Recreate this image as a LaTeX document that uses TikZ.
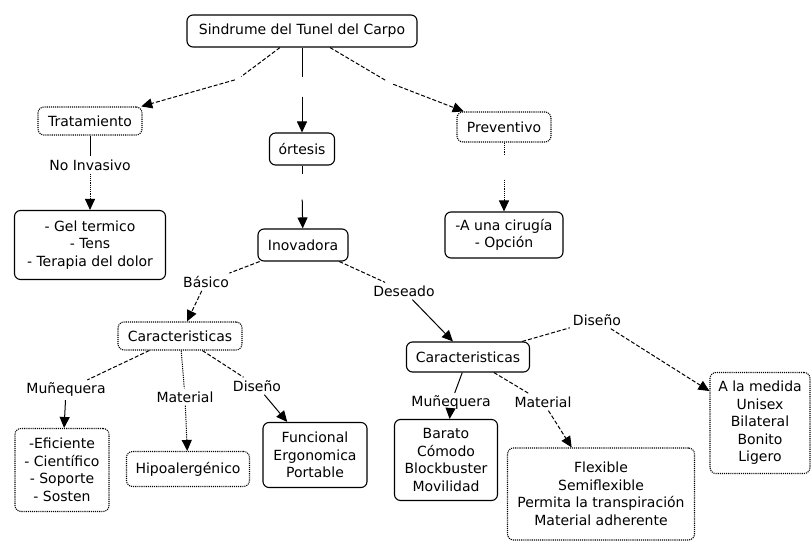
\documentclass[tikz,border=0pt]{standalone}
\usepackage{fontspec}
\setmainfont{DejaVu Sans}
\usetikzlibrary{arrows.meta}
\begin{document}
\begin{tikzpicture}[x=1pt,y=-1pt,
  every node/.style={font=\fontsize{14}{17.5}\selectfont},
  cbox/.style={draw, rounded corners=6pt, align=center, inner xsep=5pt, inner ysep=3pt, line width=1.1pt},
  dbox/.style={cbox, densely dotted},
  lp/.style={inner sep=3pt},
  gapn/.style={inner sep=0pt, minimum width=6pt},
  conn/.style={line width=1pt},
  dsh/.style={dash pattern=on 4pt off 2pt},
  dot/.style={dash pattern=on 1.2pt off 1pt},
  arr/.style={conn, -{Triangle[length=11pt,width=10pt]}}
]
\useasboundingbox (0,0) rectangle (811,545);
% boxes
\node[cbox, minimum width=230, minimum height=32] (root) at (302,31) {Sindrume del Tunel del Carpo};
\node[dbox, minimum width=104, minimum height=28] (trat) at (90,121) {Tratamiento};
\node[cbox, minimum width=65, minimum height=32] (ort) at (302,149) {órtesis};
\node[dbox, minimum width=94, minimum height=30] (prev) at (504,127) {Preventivo};
\node[cbox, minimum width=118, minimum height=46] (cir) at (504,235) {-A una cirugía\\- Opción};
\node[cbox, minimum width=151, minimum height=69] (gel) at (90,245) {- Gel termico\\- Tens\\- Terapia del dolor};
\node[cbox, minimum width=90, minimum height=32] (inov) at (303,245) {Inovadora};
\node[dbox, minimum width=124, minimum height=28] (cl) at (180,336) {Caracteristicas};
\node[cbox, minimum width=123, minimum height=30] (cr) at (468,357) {Caracteristicas};
\node[dbox, minimum width=94, minimum height=83] (efi) at (62,470) {-Eficiente\\- Científico\\- Soporte\\- Sosten};
\node[dbox, minimum width=123, minimum height=35] (hipo) at (188,469) {Hipoalergénico};
\node[cbox, minimum width=104, minimum height=65] (fun) at (315,455) {Funcional\\Ergonomica\\Portable};
\node[cbox, minimum width=103, minimum height=81] (bar) at (446,460) {Barato\\Cómodo\\Blockbuster\\Movilidad};
\node[dbox, minimum width=187, minimum height=92] (flex) at (601,494) {Flexible\\Semiflexible\\Permita la transpiración\\Material adherente};
\node[dbox, minimum width=100, minimum height=101] (med) at (760,423) {A la medida\\Unisex\\Bilateral\\Bonito\\Ligero};
% linking phrases
\node[lp] (noinv) at (90,165) {No Invasivo};
\node[lp] (bas) at (206,282) {Básico};
\node[lp] (des) at (404,291) {Deseado};
\node[lp] (dr) at (597,320) {Diseño};
\node[lp] (ml) at (66,390) {Muñequera};
\node[lp] (matl) at (185,397) {Material};
\node[lp] (dl) at (257,386) {Diseño};
\node[lp] (mr) at (451,403) {Muñequera};
\node[lp] (matr) at (543,402) {Material};
% empty linking phrases
\node[gapn, minimum height=19] (g1) at (302,87) {};
\node[gapn, minimum height=8] (g2) at (238,79) {};
\node[gapn, minimum height=8] (g3) at (390,83) {};
\node[gapn, minimum height=25] (g4) at (302,187) {};
\node[gapn, minimum height=25] (g5) at (504,167) {};
% connectors
\draw[conn, dsh] (root) -- (g2);
\draw[arr, dsh] (g2) -- (trat);
\draw[conn] (root) -- (g1);
\draw[arr] (g1) -- (ort);
\draw[conn, dsh] (root) -- (g3);
\draw[arr, dsh] (g3) -- (prev);
\draw[conn] (trat) -- (noinv);
\draw[arr, dot] (noinv) -- (gel);
\draw[conn, dot] (prev) -- (g5);
\draw[arr, dot] (g5) -- (cir);
\draw[conn] (ort) -- (g4);
\draw[arr] (g4) -- (inov);
\draw[conn, dsh] (inov) -- (bas);
\draw[arr, dsh] (bas) -- (cl);
\draw[conn, dsh] (inov) -- (des);
\draw[arr] (des) -- (cr);
\draw[conn, dsh] (cl) -- (ml);
\draw[arr] (ml) -- (efi);
\draw[conn, dot] (cl) -- (matl);
\draw[arr, dot] (matl) -- (hipo);
\draw[conn, dsh] (cl) -- (dl);
\draw[arr] (dl) -- (fun);
\draw[conn, dsh] (cr) -- (dr);
\draw[arr, dsh] (dr) -- (med);
\draw[conn] (cr) -- (mr);
\draw[arr] (mr) -- (bar);
\draw[conn, dsh] (cr) -- (matr);
\draw[arr, dsh] (matr) -- (flex);
\end{tikzpicture}
\end{document}
